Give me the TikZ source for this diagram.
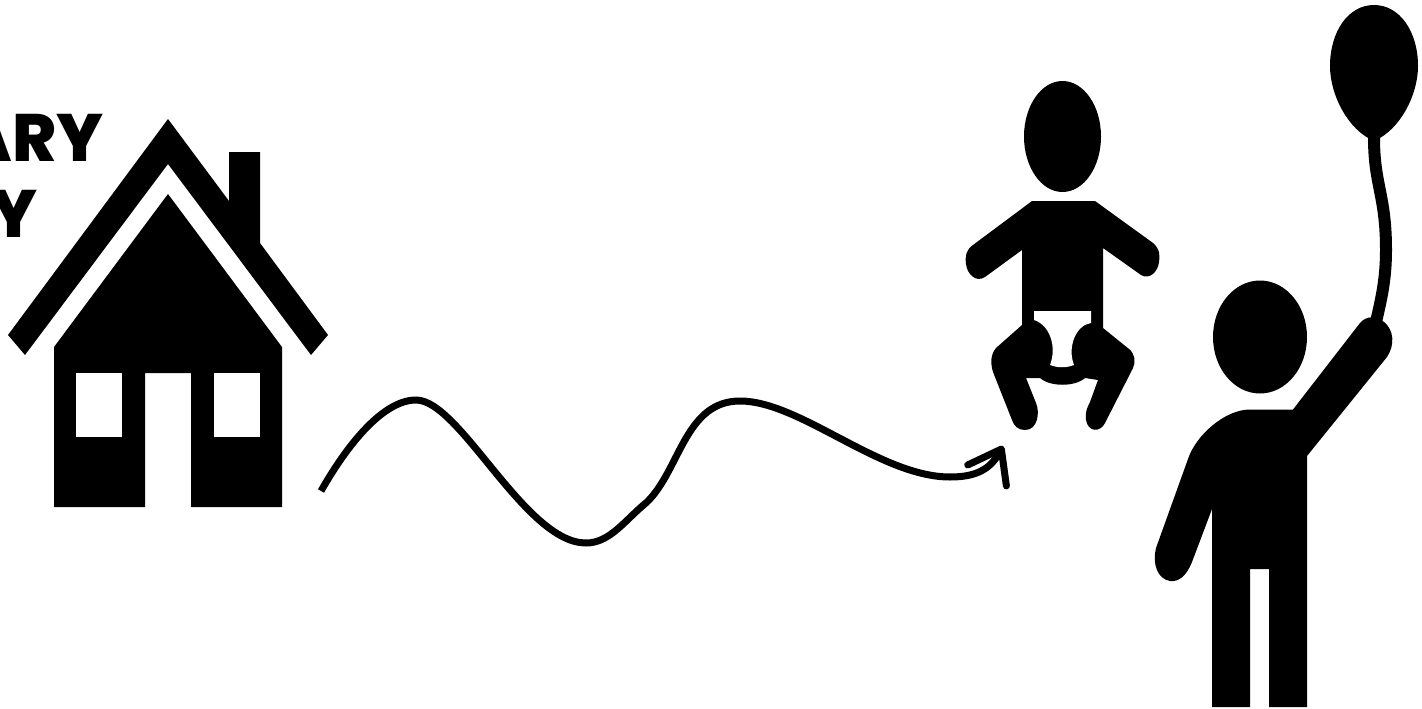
\documentclass[tikz,border=0pt]{standalone}
\usepackage{fontspec}
\setmainfont{Poppins}[BoldFont={Poppins ExtraBold}]
\usetikzlibrary{arrows.meta}
\tikzset{
  shape fill/.style={fill=black},
  cutout/.style={fill=white},
  heading/.style={font=\fontsize{67}{67}\selectfont\bfseries,inner sep=0pt,anchor=base east},
  wave/.style={line width=7pt,-{Straight Barb[length=30pt,width=44pt,line width=7pt,round]}},
}
\begin{document}
\begin{tikzpicture}[x=1pt,y=-1pt]
  \useasboundingbox (0,0) rectangle (1422,709);
  \node[heading] (headone) at (104,161) {ARY};
  \node[heading] (headtwo) at (38,237) {Y};
  % house
  \fill[shape fill] (168,119) -- (229,201) -- (229,152) -- (260,152) -- (260,243) -- (328,335)
    -- (311,355) -- (168,164) -- (25,355) -- (8,335) -- cycle;
  \fill[shape fill] (168,194) -- (282,347) -- (282,507) -- (191,507) -- (191,373) -- (145,373)
    -- (145,507) -- (54,507) -- (54,347) -- cycle;
  \fill[cutout] (76,373) rectangle (122,437);
  \fill[cutout] (214,373) rectangle (260,437);
  % baby
  \fill[shape fill] (1062.5,136.5) ellipse (38.5 and 55.5);
  \fill[shape fill] (1032,201) -- (1095,201) -- (1153,243)
    .. controls (1160,249) and (1160,256) .. (1159,262)
    .. controls (1158,272) and (1149,280) .. (1141,275)
    -- (1103,248) -- (1103,328) -- (1129,349)
    .. controls (1135,354) and (1136,362) .. (1133,368)
    -- (1105,423) .. controls (1100,433) and (1088,432) .. (1086,420)
    .. controls (1085,412) and (1087,408) .. (1090,402)
    -- (1098,380) -- (1085,378)
    .. controls (1075,387) and (1050,387) .. (1040,378)
    -- (1026,378) -- (1036,403)
    .. controls (1040,412) and (1038,430) .. (1025,430)
    .. controls (1018,430) and (1014,426) .. (1012,420)
    -- (993,372) .. controls (990,362) and (991,354) .. (996,348)
    -- (1022,325) -- (1022,250) -- (985,277)
    .. controls (976,283) and (967,274) .. (966,264)
    .. controls (965,256) and (966,250) .. (973,245)
    -- cycle;
  \fill[cutout] (1034,311) -- (1091,311) -- (1091,323)
    .. controls (1076,325) and (1067,347) .. (1074,365)
    .. controls (1066,368) and (1058,368) .. (1050,365)
    .. controls (1057,347) and (1050,325) .. (1034,320) -- cycle;
  % adult with balloon
  \fill[shape fill] (1260,337) ellipse (47 and 56.5);
  \fill[shape fill] (1250,409.5) -- (1293,409.5) -- (1360,323)
    .. controls (1366,316) and (1376,315) .. (1384,322)
    .. controls (1394,330) and (1395,345) .. (1387,357)
    -- (1307,456) -- (1307,707) -- (1269,707) -- (1269,569) -- (1250,569) -- (1250,707)
    -- (1212,707) -- (1212,509) -- (1192,562)
    .. controls (1186,577) and (1178,582) .. (1170,581)
    .. controls (1158,579) and (1152,565) .. (1156,548)
    -- (1188,459) .. controls (1196,435) and (1225,409.5) .. (1250,409.5) -- cycle;
  \fill[shape fill] (1374,5)
    .. controls (1400,5) and (1418,32) .. (1418,66)
    .. controls (1418,95) and (1400,130) .. (1374,141)
    .. controls (1348,130) and (1330,95) .. (1330,66)
    .. controls (1330,32) and (1348,5) .. (1374,5) -- cycle;
  \draw[line width=12pt] (1374,138) .. controls (1374,185) and (1386,195) .. (1386,250)
    .. controls (1386,280) and (1381,300) .. (1376,322);
  % wavy arrow
  \coordinate (wavestart) at (321,491);
  \coordinate (waveend) at (1003,446);
  \draw[wave] (wavestart) .. controls (350,440) and (385,400) .. (416,400)
    .. controls (460,400) and (525,543) .. (586,543)
    .. controls (610,543) and (625,520) .. (647,502)
    .. controls (680,470) and (685,401) .. (740,401)
    .. controls (800,401) and (880,477) .. (950,477)
    .. controls (975,477) and (990,470) .. (waveend);
\end{tikzpicture}
\end{document}
